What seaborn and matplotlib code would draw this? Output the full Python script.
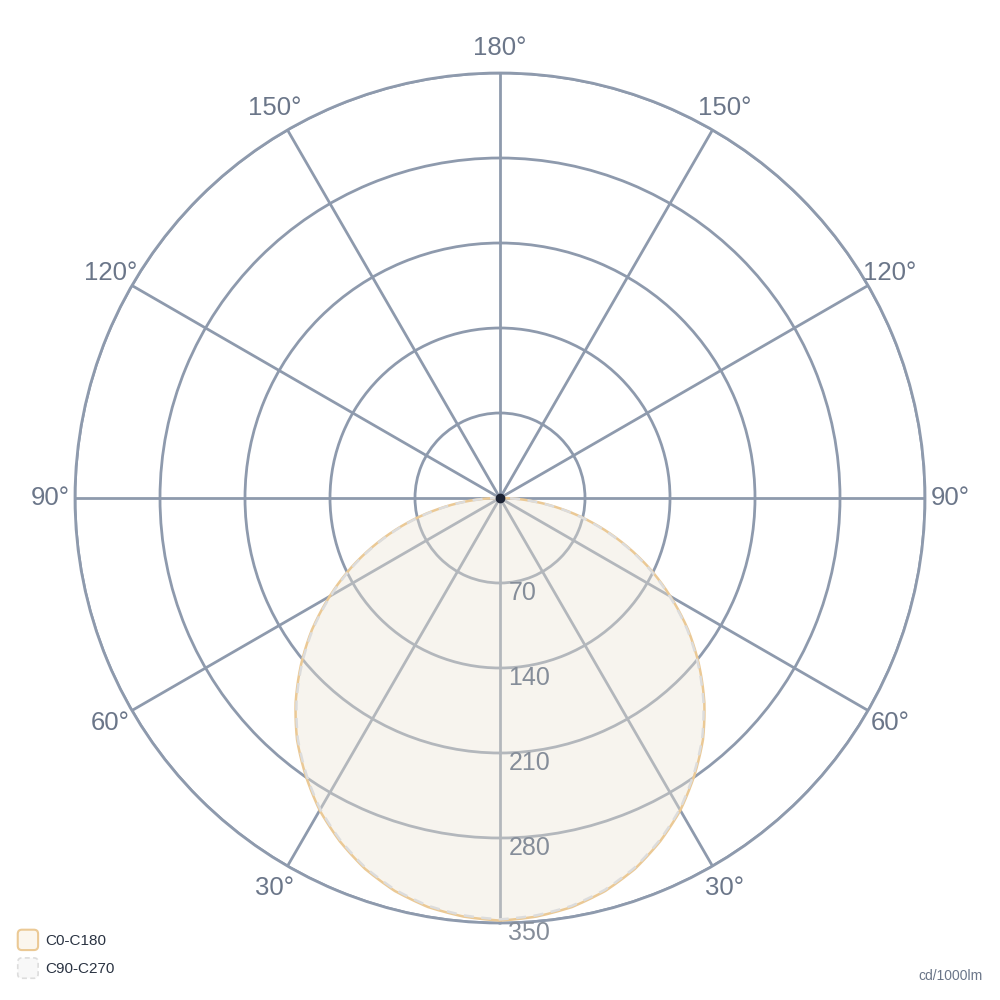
import numpy as np
import pandas as pd
import matplotlib.pyplot as plt
import seaborn as sns
from matplotlib.patches import FancyBboxPatch
from matplotlib.legend_handler import HandlerPatch

# Gamma angles (deg, 0 = straight down) and luminous intensity (cd/1000lm)
gamma = [0, 5, 10, 15, 20, 25, 30, 35, 40, 45, 50, 55, 60, 65, 70, 75, 80, 85, 90]
c0_c180 = [348, 346, 342, 335, 325, 312, 297, 279, 260, 238, 214, 189, 162, 135, 107, 79, 51, 24, 0]
c90_c270 = [347, 345, 341, 334, 324, 311, 296, 278, 259, 237, 213, 188, 161, 134, 106, 78, 50, 23, 0]

angle_ticks = [0, 30, 60, 90, 120, 150, 180, 210, 240, 270, 300, 330]
angle_labels = ["", "30°", "60°", "90°", "120°", "150°", "180°", "150°", "120°", "90°", "60°", "30°"]
r_ticks = [70, 140, 210, 280, 350]

grid_col = "#8e9aad"
label_col = "#6b7689"

sns.set_theme(style="white")
plt.rcParams["font.family"] = ["Liberation Sans", "DejaVu Sans"]


def full_curve(vals):
    # mirror the half-plane (C0 / C180 sides) into a closed curve
    th = [-g for g in gamma[::-1]] + gamma[1:]
    rr = vals[::-1] + vals[1:]
    return pd.DataFrame({"theta": np.deg2rad(th), "r": rr})


df_a = full_curve(c0_c180)
df_b = full_curve(c90_c270)

fig = plt.figure(figsize=(10, 10), dpi=100)
ax = fig.add_axes([0.075, 0.077, 0.85, 0.85], projection="polar")
ax.set_theta_zero_location("S")
ax.set_ylim(0, 350)

ax.set_thetagrids(angle_ticks, angle_labels)
ax.set_rgrids(r_ticks, labels=[""] * len(r_ticks))
ax.grid(True, color=grid_col, linewidth=2)
ax.spines["polar"].set_color(grid_col)
ax.spines["polar"].set_linewidth(2)
ax.tick_params(axis="x", labelsize=18.5, labelcolor=label_col, pad=5)

# curves (drawn as arcs in polar space)
fill = ax.fill(df_a["theta"], df_a["r"], color="#ede5d5", alpha=0.4, zorder=3, linewidth=0)[0]
fill.get_path()._interpolation_steps = 10
sns.lineplot(data=df_a, x="theta", y="r", sort=False, ax=ax, color="#ebc995",
             linewidth=1.8, zorder=4, legend=False)
sns.lineplot(data=df_b, x="theta", y="r", sort=False, ax=ax, color="#dcdcdc",
             linewidth=1.8, linestyle=(0, (4, 3)), zorder=4, legend=False)
for ln in ax.lines[-2:]:
    ln.get_path()._interpolation_steps = 10
ax.set_xlabel("")
ax.set_ylabel("")

ax.plot([0], [0], "o", color="#1b2233", markersize=6, zorder=6)

# radial labels along the downward spoke
for r in r_ticks:
    ax.annotate(str(r), xy=(0, r), xytext=(6, -12), textcoords="offset points",
                ha="left", va="baseline", fontsize=18, color="#858d99", zorder=5,
                annotation_clip=False)


class RoundHandler(HandlerPatch):
    def create_artists(self, legend, orig_handle, xdescent, ydescent, width, height, fontsize, trans):
        s = height * 1.3
        p = FancyBboxPatch((-xdescent, -ydescent - (s - height) / 2), s, s,
                           boxstyle="round,pad=0,rounding_size=3",
                           facecolor=orig_handle.get_facecolor(),
                           edgecolor=orig_handle.get_edgecolor(),
                           linewidth=orig_handle.get_linewidth(),
                           linestyle=orig_handle.get_linestyle(), transform=trans)
        return [p]


h1 = plt.Rectangle((0, 0), 1, 1, facecolor="#fbf6ee", edgecolor="#ebc995", linewidth=1.5)
h2 = plt.Rectangle((0, 0), 1, 1, facecolor="#f8f8f8", edgecolor="#dddddd", linewidth=1.2,
                   linestyle=(0, (3, 2)))
fig.legend([h1, h2], ["C0-C180", "C90-C270"], loc="lower left", bbox_to_anchor=(0.004, 0.01),
           frameon=False, fontsize=11, labelcolor="#2a3342", handlelength=1.3,
           handleheight=1.2, handletextpad=0.5, labelspacing=0.8,
           handler_map={plt.Rectangle: RoundHandler()})

fig.text(0.983, 0.024, "cd/1000lm", ha="right", va="center", fontsize=10, color=label_col)

fig.savefig("out.png", dpi=100, facecolor="white")
